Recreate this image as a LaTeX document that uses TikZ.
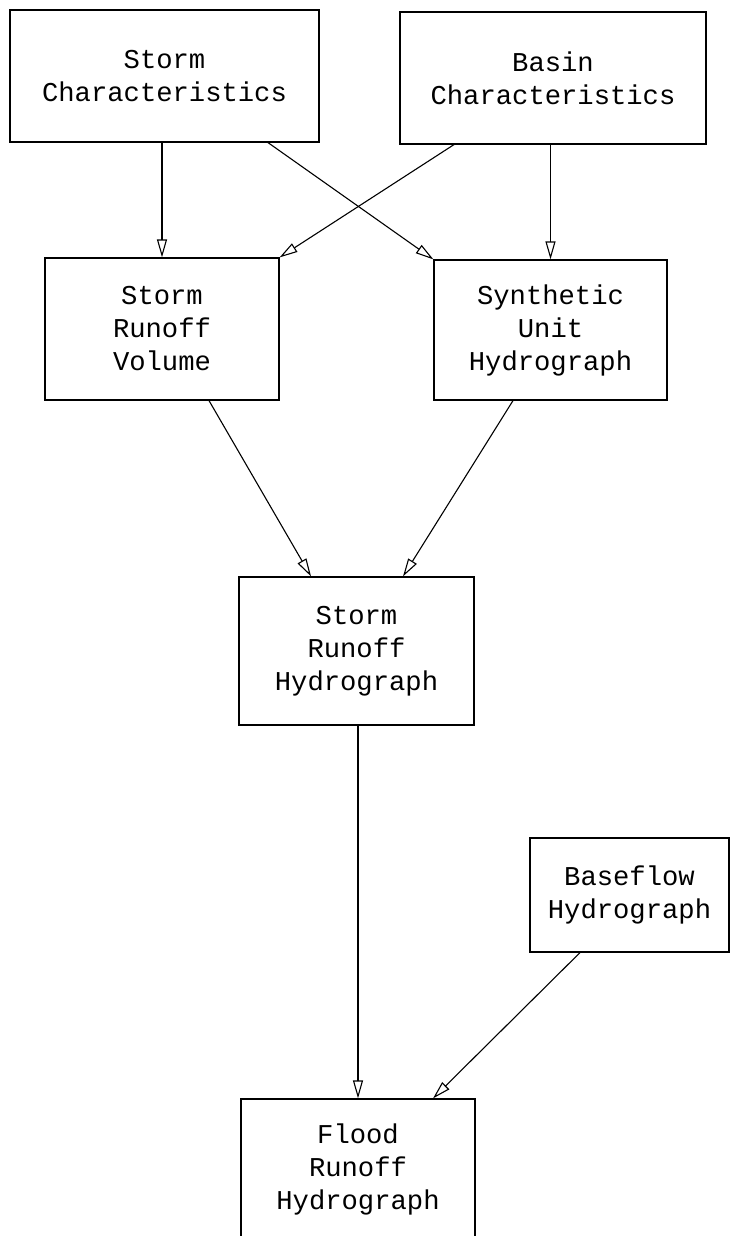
\documentclass[tikz,border=0pt]{standalone}
\usepackage{fontspec}
\setmonofont{Liberation Mono}
\usepackage{tikz}
\usetikzlibrary{arrows.meta,positioning,calc}

\begin{document}
\begin{tikzpicture}[
    x=0.5pt, y=-0.5pt,
    flowbox/.style={draw=black, line width=0.6pt, fill=white, font=\ttfamily\fontsize{13.6}{16.5}\selectfont, align=center, inner sep=0pt},
    arr/.style={-{Triangle[open, length=9pt, width=5pt]}, draw=black, line width=0.55pt}
  ]
    \useasboundingbox (0,0) rectangle (731,1236);

    \node[flowbox, minimum width=154.5pt, minimum height=66pt] (storm) at (164.5, 76) {Storm\\Characteristics};
    \node[flowbox, minimum width=153pt, minimum height=66pt] (basin) at (553, 78) {Basin\\Characteristics};

    \node[flowbox, minimum width=117pt, minimum height=71pt] (volume) at (162, 329) {Storm\\Runoff\\Volume};
    \node[flowbox, minimum width=116.5pt, minimum height=70pt] (unit) at (550.5, 330) {Synthetic\\Unit\\Hydrograph};

    \node[flowbox, minimum width=117.5pt, minimum height=74pt] (runoff) at (356.5, 651) {Storm\\Runoff\\Hydrograph};
    \node[flowbox, minimum width=99.5pt, minimum height=57pt] (base) at (629.5, 895) {Baseflow\\Hydrograph};

    \node[flowbox, minimum width=117pt, minimum height=70.5pt] (flood) at (358, 1169.5) {Flood\\Runoff\\Hydrograph};

    \draw[arr] (volume.north |- storm.south) -- (volume.north);
    \draw[arr] (unit.north |- basin.south) -- (unit.north);
    \draw[arr] ($(storm.south)+(103.5,0)$) -- (unit.north west);
    \draw[arr] ($(basin.south)+(-99,0)$) -- (volume.north east);
    \draw[arr] ($(volume.south)+(47,0)$) -- ($(runoff.north)+(-45.5,0)$);
    \draw[arr] ($(unit.south)+(-37.5,0)$) -- ($(runoff.north)+(46.5,0)$);
    \draw[arr] (flood.north |- runoff.south) -- (flood.north);
    \draw[arr] ($(base.south)+(-49.5,0)$) -- ($(flood.north)+(75,0)$);
  \end{tikzpicture}
\end{document}
